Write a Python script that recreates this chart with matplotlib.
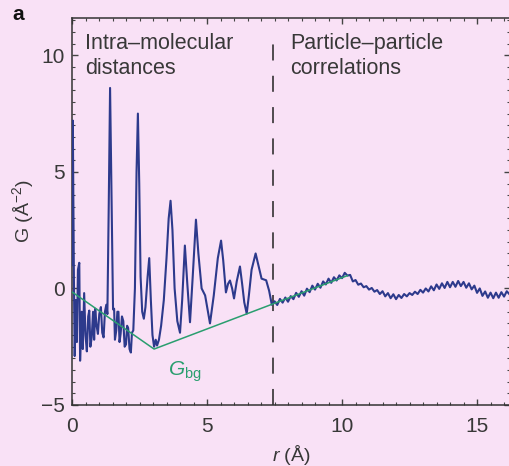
import matplotlib
matplotlib.use("Agg")
import matplotlib.pyplot as plt
from matplotlib.ticker import MultipleLocator

plt.rcParams['font.family'] = ['Liberation Sans', 'DejaVu Sans']
plt.rcParams['mathtext.fontset'] = 'custom'
plt.rcParams['mathtext.rm'] = 'Liberation Sans'
plt.rcParams['mathtext.it'] = 'Liberation Sans:italic'

# ---- data: measured G(r), intra-molecular part (r < 7.45 A)
r_short = [0.0, 0.03, 0.07, 0.1, 0.14, 0.18, 0.22, 0.27, 0.3, 0.36, 0.4, 0.45, 0.5, 0.55,
           0.6, 0.64, 0.68, 0.73, 0.78, 0.82, 0.86, 0.91, 0.96, 1.01, 1.07, 1.12, 1.17,
           1.22, 1.27, 1.31, 1.36, 1.41, 1.47, 1.52, 1.56, 1.59, 1.64, 1.68, 1.72, 1.76,
           1.8, 1.85, 1.9, 1.95, 2.0, 2.04, 2.08, 2.13, 2.18, 2.22, 2.27, 2.33, 2.39, 2.44,
           2.49, 2.54, 2.6, 2.66, 2.72, 2.8, 2.86, 2.92, 2.98, 3.04, 3.1, 3.15, 3.22, 3.3,
           3.4, 3.5, 3.58, 3.65, 3.72, 3.8, 3.9, 4.0, 4.08, 4.18, 4.27, 4.37, 4.47, 4.59,
           4.68, 4.8, 4.93, 5.02, 5.11, 5.25, 5.4, 5.52, 5.6, 5.7, 5.78, 5.85, 5.93, 6.0,
           6.1, 6.22, 6.3, 6.38, 6.47, 6.55, 6.65, 6.8, 6.9, 7.02, 7.19, 7.3, 7.4]
g_short = [1.0, 7.2, 0.5, -2.9, -0.5, -2.3, 0.8, 1.1, -3.1, -1.0, -2.6, -0.2, -2.0, -2.7,
           -1.2, -0.95, -2.5, -2.1, -1.0, -2.2, -0.87, -1.6, -1.95, -1.1, -0.8, -1.9, -2.1,
           -1.0, -0.7, -1.1, 3.5, 8.6, 3.5, -0.9, -0.87, -2.2, -1.8, -1.0, -1.0, -2.3,
           -1.95, -1.2, -1.4, -2.5, -2.4, -1.6, -1.7, -2.6, -2.75, -1.9, -1.8, 0.0, 5.0, 7.5,
           4.5, 0.5, -1.0, -1.3, -0.8, 0.5, 1.3, -0.5, -2.0, -2.5, -2.2, -2.45, -2.2, -1.6,
           -0.5, 1.3, 3.0, 3.76, 2.5, 0.0, -1.4, -1.9, -0.5, 1.84, 0.2, -1.45, 0.5, 2.95,
           1.5, 0.0, -0.3, -0.9, -1.5, -0.3, 1.3, 2.05, 1.2, -0.17, 0.2, 0.34, 0.0, -0.43,
           0.3, 0.94, 0.2, -0.6, -1.08, -0.3, 0.8, 1.5, 1.0, 0.42, 0.35, -0.1, -0.7]

# ---- data: measured G(r), particle-particle part (7.5 ... 16.2 A, step 0.1)
r_long = [7.5, 7.6, 7.7, 7.8, 7.9, 8.0, 8.1, 8.2, 8.3, 8.4, 8.5, 8.6, 8.7, 8.8, 8.9,
          9.0, 9.1, 9.2, 9.3, 9.4, 9.5, 9.6, 9.7, 9.8, 9.9, 10.0, 10.1, 10.2, 10.3, 10.4,
          10.5, 10.6, 10.7, 10.8, 10.9, 11.0, 11.1, 11.2, 11.3, 11.4, 11.5, 11.6, 11.7,
          11.8, 11.9, 12.0, 12.1, 12.2, 12.3, 12.4, 12.5, 12.6, 12.7, 12.8, 12.9, 13.0,
          13.1, 13.2, 13.3, 13.4, 13.5, 13.6, 13.7, 13.8, 13.9, 14.0, 14.1, 14.2, 14.3,
          14.4, 14.5, 14.6, 14.7, 14.8, 14.9, 15.0, 15.1, 15.2, 15.3, 15.4, 15.5, 15.6,
          15.7, 15.8, 15.9, 16.0, 16.1, 16.2]
g_long = [-0.55, -0.71, -0.45, -0.61, -0.39, -0.57, -0.33, -0.46, -0.19, -0.36, -0.12,
          -0.31, -0.01, -0.16, 0.12, -0.05, 0.2, 0.03, 0.3, 0.17, 0.42, 0.24, 0.48, 0.34,
          0.56, 0.44, 0.67, 0.55, 0.58, 0.3, 0.36, 0.16, 0.21, 0.05, 0.1, -0.05, 0.02,
          -0.14, -0.07, -0.24, -0.12, -0.34, -0.2, -0.42, -0.25, -0.46, -0.28, -0.41, -0.24,
          -0.34, -0.2, -0.28, -0.14, -0.24, -0.06, -0.18, 0.0, -0.13, 0.09, -0.08, 0.17,
          -0.02, 0.22, 0.02, 0.28, 0.05, 0.28, 0.07, 0.32, 0.1, 0.28, 0.03, 0.22, -0.04,
          0.12, -0.19, 0.0, -0.32, -0.13, -0.4, -0.18, -0.42, -0.18, -0.4, -0.16, -0.35,
          -0.12, -0.25]

# ---- data: background G_bg (piecewise linear)
r_bg = [0.0, 3.04, 10.2]
g_bg = [-0.15, -2.6, 0.55]

r_split = 7.45
x_ticks = [0, 5, 10, 15]
y_ticks = [-5, 0, 5, 10]

bg_col = '#f9e1f6'
blue = '#2d3a8c'
green = '#2a9e6f'
txt = '#383838'

fig = plt.figure(figsize=(5.10, 4.66), dpi=100, facecolor=bg_col)
ax = fig.add_axes([72/510, 1-405/466, (510-72)/510, (405-18)/466])
ax.set_facecolor(bg_col)

ax.plot(r_short + r_long, g_short + g_long, color=blue, lw=1.5, zorder=3,
        solid_joinstyle='round')
ax.plot(r_bg, g_bg, color=green, lw=1.1, zorder=4)
ax.plot([r_split, r_split], [-5, 10.6], color='#222222', lw=1.1,
        dashes=(10.5, 10), zorder=2)

ax.set_xlim(0, 16.22)
ax.set_ylim(-5, 11.6)
ax.set_xticks(x_ticks)
ax.set_yticks(y_ticks)
ax.set_yticklabels(['\u22125', '0', '5', '10'])
ax.xaxis.set_minor_locator(MultipleLocator(0.5))
ax.yaxis.set_minor_locator(MultipleLocator(0.5))
ax.tick_params(which='both', direction='in', top=True, right=True,
               colors='#444444', labelsize=15, labelcolor=txt)
ax.tick_params(which='major', length=4, width=1)
ax.tick_params(which='minor', length=2, width=0.8)
ax.tick_params(axis='x', pad=9)
ax.tick_params(axis='y', pad=5)
for s in ax.spines.values():
    s.set_color('#333333')
    s.set_linewidth(1.1)

ax.set_xlabel(r'$\it{r}$ (Å)', fontsize=14, color=txt, labelpad=5)
ax.set_ylabel(r'G (Å$^{\mathregular{-2}}$)', fontsize=14, color=txt, labelpad=4)

ax.text(0.48, 10.95, 'Intra\u2013molecular\ndistances', fontsize=15.5, color=txt,
        va='top', ha='left', linespacing=1.25)
ax.text(8.07, 10.95, 'Particle\u2013particle\ncorrelations', fontsize=15.5, color=txt,
        va='top', ha='left', linespacing=1.25)
ax.text(3.55, -3.75, r'$G_{\rm bg}$', fontsize=15, color=green, va='baseline')

fig.text(12/510, 1-14/466, 'a', fontsize=15, fontweight='bold', color='#111111',
         va='center', ha='left')

fig.savefig('out.png', dpi=100, facecolor=bg_col)
